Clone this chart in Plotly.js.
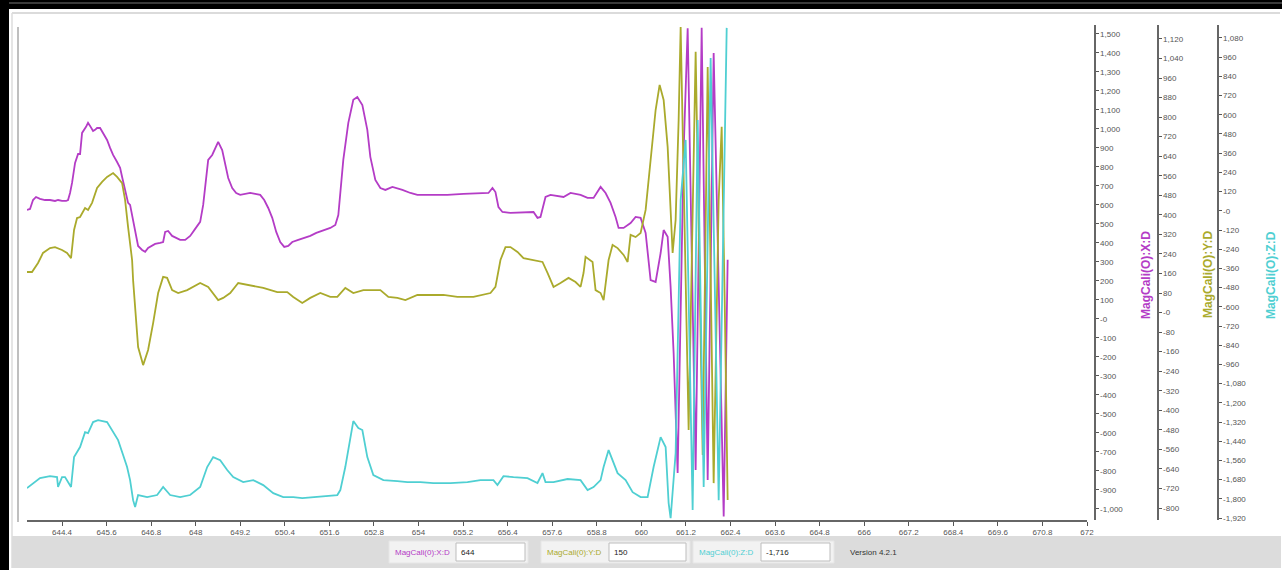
<!DOCTYPE html>
<html><head><meta charset="utf-8">
<script src="https://cdn.plot.ly/plotly-3.0.1.min.js"></script>
<style>html,body{margin:0;padding:0;background:#fff;overflow:hidden}#chart{width:1282px;height:570px}</style>
</head><body><div id="chart"></div>
<script>
// ---- data ----
const magX=[643.457,643.538,643.619,643.700,643.807,643.942,644.077,644.212,644.293,644.400,644.508,644.562,644.616,644.670,644.751,644.832,644.886,644.940,645.047,645.101,645.155,645.236,645.290,645.344,645.425,645.506,645.613,645.694,645.775,645.883,645.964,646.018,646.098,646.179,646.233,646.314,646.368,646.449,646.557,646.638,646.718,646.826,646.907,647.042,647.123,647.177,647.257,647.365,647.473,647.581,647.716,647.851,647.985,648.120,648.201,648.282,648.336,648.444,648.524,648.605,648.713,648.794,648.875,648.983,649.090,649.198,649.333,649.468,649.602,649.737,649.845,649.953,650.061,650.168,650.276,650.384,650.492,650.600,650.761,650.923,651.085,651.247,651.408,651.624,651.759,651.840,651.974,652.109,652.244,652.352,652.487,652.621,652.702,652.837,652.972,653.107,653.296,653.430,653.565,653.781,653.969,654.319,654.777,655.209,655.586,655.883,655.991,656.071,656.152,656.260,656.476,656.826,657.096,657.203,657.284,657.419,657.554,657.904,658.093,658.363,658.551,658.713,658.821,658.902,659.037,659.171,659.306,659.387,659.522,659.710,659.845,659.980,660.115,660.249,660.384,660.519,660.600,660.708,660.788,660.869,660.977,661.139,661.247,661.462,661.624,661.786,661.947,662.217,662.324];
const magV=[574,579,626,642,632,626,626,621,626,621,621,626,663,716,821,868,868,979,1011,1032,1016,989,995,1005,1005,979,942,900,863,826,795,747,679,611,600,511,453,384,363,353,374,384,395,400,405,458,463,437,426,416,416,437,474,511,600,758,837,863,900,932,889,811,742,689,663,653,658,663,658,653,626,584,532,458,405,379,384,405,416,426,437,453,463,479,495,547,837,1032,1153,1168,1126,995,853,732,689,679,695,689,679,663,653,653,653,658,663,663,689,668,589,563,558,563,563,532,537,642,653,642,663,653,637,637,668,695,663,611,537,479,479,505,537,532,453,205,195,347,468,432,168,-179,-811,889,1530,-795,1532,-847,1400,-1040,311];

const oliveX=[643.457,643.592,643.754,643.888,644.077,644.212,644.400,644.535,644.643,644.724,644.805,644.886,645.020,645.101,645.209,645.344,645.479,645.613,645.775,645.883,646.018,646.098,646.179,646.287,646.314,646.368,646.449,646.584,646.718,646.853,646.988,647.123,647.230,647.365,647.527,647.770,648.120,648.336,648.470,648.605,648.740,648.929,649.144,649.387,649.818,650.196,650.465,650.627,650.869,651.085,651.355,651.624,651.813,652.028,652.244,652.514,652.972,653.188,653.430,653.646,653.969,654.319,654.670,655.047,655.478,655.937,656.071,656.206,656.341,656.476,656.664,656.826,657.068,657.338,657.473,657.635,657.823,658.039,658.228,658.363,658.443,658.497,658.686,658.767,658.902,658.983,659.118,659.225,659.360,659.522,659.630,659.710,659.845,659.980,660.115,660.249,660.384,660.492,660.600,660.708,660.788,660.842,660.923,661.004,661.058,661.273,661.462,661.651,661.786,661.947,662.082,662.163,662.244,662.324];
const oliveV=[166,166,203,244,264,268,256,244,223,338,387,391,428,420,449,510,535,555,571,555,530,461,350,215,133,23,-141,-215,-153,-43,80,146,142,92,80,92,121,105,80,51,60,80,121,113,101,84,84,64,39,60,80,64,64,101,80,92,92,64,60,51,72,72,72,64,64,80,105,215,268,268,248,223,215,207,162,105,121,142,125,105,162,228,207,92,80,51,215,277,264,236,207,318,309,326,420,625,829,932,870,678,379,244,379,788,1169,-481,1067,-583,1005,-698,461,760,51,-767];

const cyanX=[643.457,643.619,643.807,644.077,644.266,644.293,644.400,644.481,644.643,644.724,644.886,645.020,645.101,645.236,645.371,645.613,645.775,645.910,646.045,646.152,646.233,646.314,646.368,646.449,646.692,646.961,647.123,647.311,647.581,647.850,648.120,648.309,648.470,648.659,648.848,649.010,649.279,649.549,649.818,650.088,650.357,650.627,650.869,651.166,651.543,651.813,651.894,652.028,652.244,652.379,652.487,652.621,652.783,653.053,653.430,653.699,654.050,654.400,654.859,655.317,655.667,656.017,656.125,656.287,656.557,656.934,657.203,657.338,657.419,657.635,658.012,658.363,658.551,658.713,658.902,658.983,659.118,659.225,659.360,659.576,659.765,659.980,660.168,660.330,660.519,660.654,660.734,660.788,660.923,661.058,661.193,661.381,661.516,661.678,661.866,662.082,662.190,662.298];
const cyanV=[-1733,-1701,-1670,-1658,-1664,-1726,-1664,-1664,-1726,-1539,-1476,-1383,-1389,-1320,-1308,-1320,-1383,-1433,-1526,-1601,-1683,-1808,-1851,-1776,-1789,-1776,-1726,-1776,-1789,-1776,-1726,-1601,-1539,-1558,-1620,-1664,-1695,-1683,-1714,-1764,-1789,-1789,-1795,-1789,-1783,-1776,-1745,-1601,-1314,-1358,-1370,-1539,-1651,-1683,-1689,-1695,-1695,-1701,-1701,-1695,-1683,-1683,-1714,-1658,-1664,-1670,-1701,-1639,-1695,-1695,-1676,-1683,-1745,-1726,-1683,-1601,-1495,-1558,-1639,-1683,-1758,-1789,-1789,-1601,-1414,-1476,-1826,-1920,-1514,67,443,-1870,568,-1726,955,-1808,-245,1143];

const xTickVals=[644.4,645.6,646.8,648,649.2,650.4,651.6,652.8,654,655.2,656.4,657.6,658.8,660,661.2,662.4,663.6,664.8,666,667.2,668.4,669.6,670.8,672];
const xTickText=['644.4','645.6','646.8','648','649.2','650.4','651.6','652.8','654','655.2','656.4','657.6','658.8','660','661.2','662.4','663.6','664.8','666','667.2','668.4','669.6','670.8','672'];

const magTickVals=[1500,1400,1300,1200,1100,1000,900,800,700,600,500,400,300,200,100,0,-100,-200,-300,-400,-500,-600,-700,-800,-900,-1000];
const magTickText=['1,500','1,400','1,300','1,200','1,100','1,000','900','800','700','600','500','400','300','200','100','-0','-100','-200','-300','-400','-500','-600','-700','-800','-900','-1,000'];
const oliveTickVals=[1120,1040,960,880,800,720,640,560,480,400,320,240,160,80,0,-80,-160,-240,-320,-400,-480,-560,-640,-720,-800];
const oliveTickText=['1,120','1,040','960','880','800','720','640','560','480','400','320','240','160','80','-0','-80','-160','-240','-320','-400','-480','-560','-640','-720','-800'];
const cyanTickVals=[1080,960,840,720,600,480,360,240,120,0,-120,-240,-360,-480,-600,-720,-840,-960,-1080,-1200,-1320,-1440,-1560,-1680,-1800,-1920];
const cyanTickText=['1,080','960','840','720','600','480','360','240','120','-0','-120','-240','-360','-480','-600','-720','-840','-960','-1,080','-1,200','-1,320','-1,440','-1,560','-1,680','-1,800','-1,920'];

const seriesNames=['MagCali(O):X:D','MagCali(O):Y:D','MagCali(O):Z:D'];
const panelLabels=['MagCali(0):X:D','MagCali(0):Y:D','MagCali(0):Z:D'];
const panelValues=['644','150','-1,716'];
const versionText='Version 4.2.1';

// ---- styling / layout ----
const W=1282,H=570;
const px=v=>v/W, py=v=>1-v/H;
const colors=['#b43cc6','#aaaa2c','#4fcfd2'];
const FAM='Liberation Sans, Arial, sans-serif';
const tickFont={family:FAM,size:8,color:'#555'};

const traces=[
 {x:magX,y:magV,yaxis:'y',type:'scatter',mode:'lines',line:{color:colors[0],width:1.8},name:seriesNames[0]},
 {x:oliveX,y:oliveV,yaxis:'y2',type:'scatter',mode:'lines',line:{color:colors[1],width:1.8},name:seriesNames[1]},
 {x:cyanX,y:cyanV,yaxis:'y3',type:'scatter',mode:'lines',line:{color:colors[2],width:1.8},name:seriesNames[2]}
];

function yAx(range,pos,vals,text,extra){
  return Object.assign({range:range,anchor:'free',position:pos,side:'right',tickmode:'array',tickvals:vals,ticktext:text,
    ticks:'outside',ticklen:3,tickcolor:'#555',showline:true,linecolor:'#666',linewidth:1.5,showgrid:false,zeroline:false,
    tickfont:tickFont,automargin:false,fixedrange:true},extra||{});
}

const shapes=[
 {type:'rect',xref:'paper',yref:'paper',x0:0,x1:px(9),y0:0,y1:1,fillcolor:'#000',line:{width:0},layer:'above'},
 {type:'rect',xref:'paper',yref:'paper',x0:0,x1:1,y0:py(9),y1:1,fillcolor:'#000',line:{width:0},layer:'above'},
 {type:'line',xref:'paper',yref:'paper',x0:px(9),x1:1,y0:py(3),y1:py(3),line:{color:'#777',width:1},layer:'above'},
 {type:'line',xref:'paper',yref:'paper',x0:px(12),x1:px(1280),y0:py(13),y1:py(13),line:{color:'#cfcfcf',width:1.5}},
 {type:'line',xref:'paper',yref:'paper',x0:px(12),x1:px(12),y0:py(13),y1:py(568),line:{color:'#dcdcdc',width:1.5}},
 {type:'line',xref:'paper',yref:'paper',x0:px(18),x1:px(18),y0:py(27),y1:py(522),line:{color:'#aaa',width:1.5}},
 {type:'rect',xref:'paper',yref:'paper',x0:px(12),x1:px(1281),y0:py(568),y1:py(536),fillcolor:'#dcdcdc',line:{width:0}},
 {type:'rect',xref:'paper',yref:'paper',x0:px(389),x1:px(528),y0:py(563),y1:py(541),fillcolor:'#f2f2f2',line:{color:'#e6e6e6',width:1}},
 {type:'rect',xref:'paper',yref:'paper',x0:px(456),x1:px(525),y0:py(561),y1:py(543),fillcolor:'#fff',line:{color:'#bdbdbd',width:1}},
 {type:'rect',xref:'paper',yref:'paper',x0:px(541),x1:px(690),y0:py(563),y1:py(541),fillcolor:'#f2f2f2',line:{color:'#e6e6e6',width:1}},
 {type:'rect',xref:'paper',yref:'paper',x0:px(609),x1:px(686),y0:py(561),y1:py(543),fillcolor:'#fff',line:{color:'#bdbdbd',width:1}},
 {type:'rect',xref:'paper',yref:'paper',x0:px(693),x1:px(834),y0:py(563),y1:py(541),fillcolor:'#f2f2f2',line:{color:'#e6e6e6',width:1}},
 {type:'rect',xref:'paper',yref:'paper',x0:px(761),x1:px(830),y0:py(561),y1:py(543),fillcolor:'#fff',line:{color:'#bdbdbd',width:1}}
];

const f8=(c)=>({family:FAM,size:8,color:c});
const titleFont=(c)=>({family:FAM,size:12,color:c,weight:'bold'});
const annotations=[
 {text:seriesNames[0],x:px(1146),y:py(275),xref:'paper',yref:'paper',textangle:-90,showarrow:false,font:titleFont(colors[0]),xanchor:'center',yanchor:'middle'},
 {text:seriesNames[1],x:px(1208),y:py(275),xref:'paper',yref:'paper',textangle:-90,showarrow:false,font:titleFont(colors[1]),xanchor:'center',yanchor:'middle'},
 {text:seriesNames[2],x:px(1271),y:py(275),xref:'paper',yref:'paper',textangle:-90,showarrow:false,font:titleFont(colors[2]),xanchor:'center',yanchor:'middle'},
 {text:panelLabels[0],x:px(393),y:py(552),xref:'paper',yref:'paper',showarrow:false,font:f8(colors[0]),xanchor:'left',yanchor:'middle'},
 {text:panelValues[0],x:px(459),y:py(552),xref:'paper',yref:'paper',showarrow:false,font:f8('#222'),xanchor:'left',yanchor:'middle'},
 {text:panelLabels[1],x:px(545),y:py(552),xref:'paper',yref:'paper',showarrow:false,font:f8(colors[1]),xanchor:'left',yanchor:'middle'},
 {text:panelValues[1],x:px(612),y:py(552),xref:'paper',yref:'paper',showarrow:false,font:f8('#222'),xanchor:'left',yanchor:'middle'},
 {text:panelLabels[2],x:px(697),y:py(552),xref:'paper',yref:'paper',showarrow:false,font:f8(colors[2]),xanchor:'left',yanchor:'middle'},
 {text:panelValues[2],x:px(764),y:py(552),xref:'paper',yref:'paper',showarrow:false,font:f8('#222'),xanchor:'left',yanchor:'middle'},
 {text:versionText,x:px(848),y:py(552),xref:'paper',yref:'paper',showarrow:false,font:f8('#333'),xanchor:'left',yanchor:'middle'}
];

const layout={
 width:W,height:H,margin:{l:0,r:0,t:0,b:0,pad:0},paper_bgcolor:'#fff',plot_bgcolor:'#fff',showlegend:false,hovermode:false,
 xaxis:{domain:[px(27),px(1087)],range:[643.457,672],tickmode:'array',tickvals:xTickVals,ticktext:xTickText,ticks:'outside',ticklen:4,tickcolor:'#555',
   showline:true,linecolor:'#666',linewidth:1.5,showgrid:false,zeroline:false,tickfont:tickFont,automargin:false,anchor:'y',fixedrange:true},
 yaxis:yAx([-1058,1547],px(1094),magTickVals,magTickText,{domain:[py(520),py(25)]}),
 yaxis2:yAx([-849,1177],px(1157),oliveTickVals,oliveTickText,{overlaying:'y'}),
 yaxis3:yAx([-1932,1161],px(1217),cyanTickVals,cyanTickText,{overlaying:'y'}),
 shapes:shapes,annotations:annotations
};
Plotly.newPlot('chart',traces,layout,{staticPlot:true,displayModeBar:false});
</script></body></html>
